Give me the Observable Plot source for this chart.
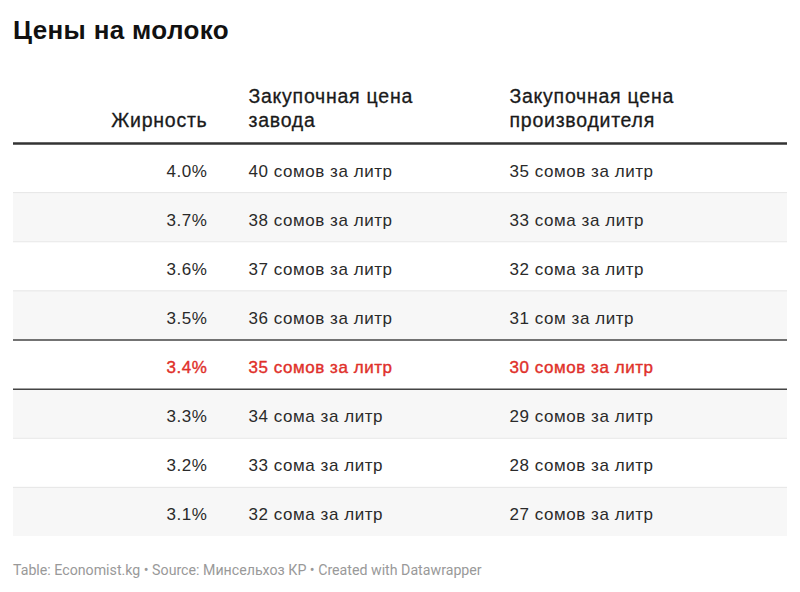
<!DOCTYPE html>
<html>
<head>
<meta charset="utf-8">
<script src="https://cdn.jsdelivr.net/npm/d3@7"></script>
<script src="https://cdn.jsdelivr.net/npm/@observablehq/plot@0.6"></script>
<style>
  html, body { margin: 0; padding: 0; background: #fff; }
  #wrap { position: relative; width: 800px; height: 592px; overflow: hidden; }
  #title { position: absolute; left: 13px; top: 0; font-family: "Liberation Sans", Arial, sans-serif; font-weight: bold; font-size: 26px; line-height: 26px; color: #111; padding-top: 17px; letter-spacing: 0.35px; }
  #chart { position: absolute; left: 0; top: 60px; }
  #footer { position: absolute; left: 13px; top: 562px; font-family: Roboto, "Liberation Sans", sans-serif; font-size: 14.2px; line-height: 16px; color: #999; }
  #chart .body text, #chart text.body, #chart .body { letter-spacing: 0.55px; }
  #chart .head text, #chart text.head, #chart .head { letter-spacing: 0.75px; }
</style>
</head>
<body>
<div id="wrap">
  <div id="title">Цены на молоко</div>
  <div id="chart"></div>
  <div id="footer">Table: Economist.kg • Source: Минсельхоз КР • Created with Datawrapper</div>
</div>
<script>
const fatContent = ["4.0%", "3.7%", "3.6%", "3.5%", "3.4%", "3.3%", "3.2%", "3.1%"];
const factoryPrice = ["40 сомов за литр", "38 сомов за литр", "37 сомов за литр", "36 сомов за литр", "35 сомов за литр", "34 сома за литр", "33 сома за литр", "32 сома за литр"];
const producerPrice = ["35 сомов за литр", "33 сома за литр", "32 сома за литр", "31 сом за литр", "30 сомов за литр", "29 сомов за литр", "28 сомов за литр", "27 сомов за литр"];
const headers = ["Жирность", "Закупочная цена\nзавода", "Закупочная цена\nпроизводителя"];
const highlighted = "3.4%";

// layout constants
const W = 800, H = 485;
const left = 13, right = 787;
const colX = [207, 248, 509];
const colAnchor = ["end", "start", "start"];
const font = "'Liberation Sans', Arial, sans-serif";

const rows = fatContent.map((f, i) => ({i, fat: f, factory: factoryPrice[i], producer: producerPrice[i], hi: f === highlighted}));
const hiIndex = rows.findIndex(d => d.hi);
const n = rows.length;

const cells = [];
rows.forEach(r => {
  [r.fat, r.factory, r.producer].forEach((t, c) => cells.push({row: r.i, col: c, text: t, hi: r.hi}));
});
const headerCells = headers.map((h, c) => ({col: c, text: h}));

const textColor = "#2a2a2a";
const red = "#e0302a";

const marks = [
  Plot.rect(rows.filter(d => d.i % 2 === 1), {x1: left, x2: right, y1: d => d.i, y2: d => d.i + 1, fill: "#f7f7f7"}),
  Plot.ruleY(d3.range(1, n).filter(k => k !== hiIndex && k !== hiIndex + 1), {x1: left, x2: right, stroke: "#e6e6e6", strokeWidth: 1}),
  Plot.ruleY([hiIndex, hiIndex + 1], {x1: left, x2: right, stroke: "#444", strokeWidth: 1.5}),
  Plot.ruleY([0], {x1: left, x2: right, stroke: "#333", strokeWidth: 2.5}),
];
for (let c = 0; c < 3; c++) {
  marks.push(Plot.text(cells.filter(d => d.col === c && !d.hi), {
    x: () => colX[c], y: d => d.row + 0.5, text: "text",
    textAnchor: colAnchor[c], lineAnchor: "middle", dy: 3,
    fill: textColor, fontSize: 17, fontFamily: font, className: "body"
  }));
  marks.push(Plot.text(cells.filter(d => d.col === c && d.hi), {
    x: () => colX[c], y: d => d.row + 0.5, text: "text",
    textAnchor: colAnchor[c], lineAnchor: "middle", dy: 3,
    fill: red, stroke: red, strokeWidth: 0.4, fontSize: 17, fontFamily: font, className: "body"
  }));
  marks.push(Plot.text(headerCells.filter(d => d.col === c), {
    x: () => colX[c], y: () => 0, text: "text",
    textAnchor: colAnchor[c], lineAnchor: "bottom", dy: -17, lineHeight: 24 / 19.5,
    fill: "#1a1a1a", stroke: "#1a1a1a", strokeWidth: 0.3, fontSize: 19.5, fontFamily: font, className: "head"
  }));
}

const plot = Plot.plot({
  width: W, height: H,
  margin: 0,
  x: {type: "linear", domain: [0, W], range: [0, W], axis: null},
  y: {type: "linear", domain: [0, n], range: [83, 83 + n * 49.125], axis: null},
  style: {background: "transparent", overflow: "visible"},
  marks
});
document.getElementById("chart").appendChild(plot);
</script>
</body>
</html>
